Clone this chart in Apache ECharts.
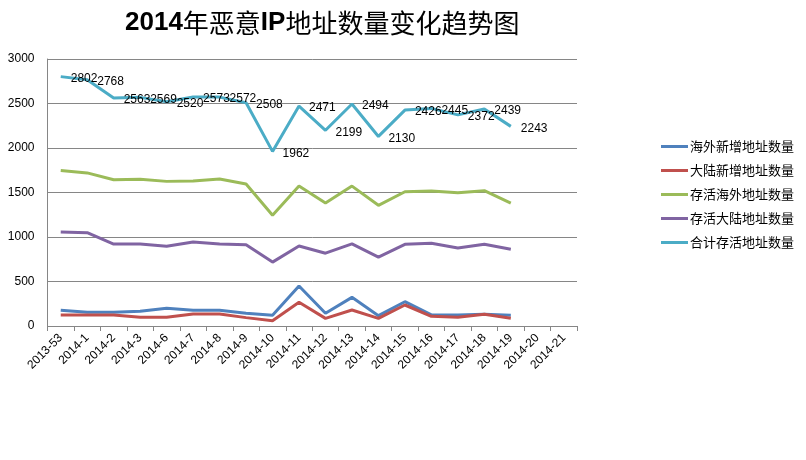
<!DOCTYPE html>
<html>
<head>
<meta charset="utf-8">
<script src="https://cdn.jsdelivr.net/npm/echarts@6/dist/echarts.min.js"></script>
<style>
html,body{margin:0;padding:0;background:#fff;}
#main{width:806px;height:460px;}
</style>
</head>
<body>
<div id="main"></div>
<script>
const categories = ['2013-53','2014-1','2014-2','2014-3','2014-6','2014-7','2014-8','2014-9','2014-10','2014-11','2014-12','2014-13','2014-14','2014-15','2014-16','2014-17','2014-18','2014-19','2014-20','2014-21'];
const seriesNames = ['海外新增地址数量','大陆新增地址数量','存活海外地址数量','存活大陆地址数量','合计存活地址数量'];
const overseasNew = [176,154,154,165,199,176,176,143,120,449,143,322,116,273,124,124,131,120];
const mainlandNew = [124,124,124,98,98,135,135,94,60,266,86,180,86,236,109,98,131,86];
const overseasAlive = [1746,1720,1643,1648,1625,1629,1652,1596,1244,1572,1381,1572,1356,1508,1516,1496,1521,1380];
const mainlandAlive = [1056,1048,920,921,895,944,920,912,718,899,818,922,774,918,929,876,918,863];
const totalAlive = [2802,2768,2563,2569,2520,2573,2572,2508,1962,2471,2199,2494,2130,2426,2445,2372,2439,2243];
const yTicks = [0,500,1000,1500,2000,2500,3000];
const colors = ['#4F81BD','#C0504D','#9BBB59','#8064A2','#4BACC6'];
const seriesData = [overseasNew, mainlandNew, overseasAlive, mainlandAlive, totalAlive];

const chart = echarts.init(document.getElementById('main'), null, {renderer:'canvas'});
const series = seriesNames.map((name, i) => {
  const s = {
    name: name,
    type: 'line',
    data: seriesData[i],
    symbol: 'none',
    lineStyle: {width: 3, color: colors[i]},
    itemStyle: {color: colors[i]},
    emphasis: {disabled: true},
    animation: false
  };
  if (i === 4) {
    s.symbol = 'circle';
    s.symbolSize = 0.01;
    s.showSymbol = true;
    s.label = {
      show: true,
      position: 'right',
      distance: 10,
      offset: [0, 2],
      color: '#000',
      fontSize: 12,
      fontFamily: 'Liberation Sans, Arial, sans-serif'
    };
  }
  return s;
});

chart.setOption({
  backgroundColor: '#fff',
  animation: false,
  color: colors,
  title: {
    text: '{b|2014}{n|年恶意}{b|IP}{n|地址数量变化趋势图}',
    left: 120,
    top: 5,
    textStyle: {
      rich: {
        b: {fontSize: 26, fontWeight: 'bold', fontFamily: 'Liberation Sans, Arial, sans-serif', color: '#000'},
        n: {fontSize: 26, fontWeight: 'normal', fontFamily: 'Noto Sans CJK SC', color: '#000'}
      }
    }
  },
  legend: {
    orient: 'vertical',
    left: 656,
    top: 135,
    icon: 'rect',
    itemWidth: 27,
    itemHeight: 3,
    itemGap: 11,
    data: seriesNames,
    textStyle: {fontSize: 13, color: '#000', fontFamily: 'Noto Sans CJK SC', padding: [0,0,0,-3], letterSpacing: 1.5}
  },
  grid: {left: 47.5, right: 229, top: 59, bottom: 134, containLabel: false},
  xAxis: {
    type: 'category',
    data: categories,
    boundaryGap: true,
    axisLine: {lineStyle: {color: '#868686', width: 1}},
    axisTick: {show: true, interval: 0, length: 5, lineStyle: {color: '#868686'}},
    axisLabel: {interval: 0, rotate: 45, fontSize: 12, color: '#000', margin: 10, fontFamily: 'Liberation Sans, Arial, sans-serif'},
    splitLine: {show: false}
  },
  yAxis: {
    type: 'value',
    min: yTicks[0],
    max: yTicks[yTicks.length - 1],
    interval: 500,
    axisLine: {show: true, lineStyle: {color: '#868686', width: 1}},
    axisTick: {show: false},
    axisLabel: {fontSize: 12, color: '#000', margin: 13, fontFamily: 'Liberation Sans, Arial, sans-serif', formatter: function (v) { return String(v); }},
    splitLine: {show: true, lineStyle: {color: '#868686', width: 1}}
  },
  series: series
});
</script>
</body>
</html>
